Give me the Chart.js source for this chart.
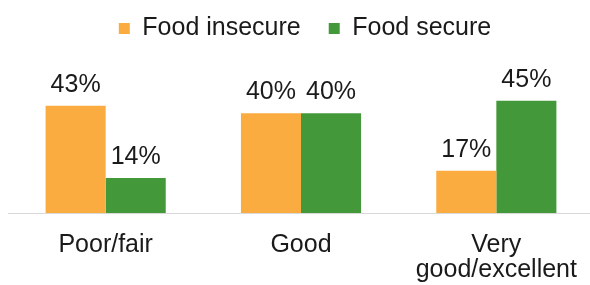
<!DOCTYPE html>
<html>
<head>
<meta charset="utf-8">
<script src="https://cdn.jsdelivr.net/npm/chart.js@4"></script>
<style>
  html, body { margin: 0; padding: 0; background: #fff; overflow: hidden; }
  #wrap { position: absolute; left: 0; top: -12px; width: 602px; height: 320px; }
</style>
</head>
<body>
<div id="wrap"><canvas id="chart"></canvas></div>
<script>
const categories = ['Poor/fair', 'Good', ['Very', 'good/excellent']];
const seriesNames = ['Food insecure', 'Food secure'];
const foodInsecure = [43, 40, 17];
const foodSecure = [14, 40, 45];

const orange = '#FAAC40';
const green = '#43983A';
const fontFamily = '"Liberation Sans", Arial, sans-serif';

Chart.defaults.font.family = fontFamily;
Chart.defaults.color = '#1a1a1a';

// value labels above each bar
const barLabels = {
  id: 'barLabels',
  afterDatasetsDraw(chart) {
    const ctx = chart.ctx;
    ctx.save();
    ctx.font = '25px ' + fontFamily;
    ctx.fillStyle = '#1a1a1a';
    ctx.textAlign = 'center';
    ctx.textBaseline = 'alphabetic';
    chart.data.datasets.forEach((ds, i) => {
      chart.getDatasetMeta(i).data.forEach((bar, j) => {
        ctx.fillText(ds.data[j] + '%', bar.x, bar.y - 14);
      });
    });
    ctx.restore();
  }
};

new Chart(document.getElementById('chart'), {
  type: 'bar',
  data: {
    labels: categories,
    datasets: [
      { label: seriesNames[0], data: foodInsecure, backgroundColor: orange, borderWidth: 0 },
      { label: seriesNames[1], data: foodSecure, backgroundColor: green, borderWidth: 0 }
    ]
  },
  options: {
    responsive: true,
    maintainAspectRatio: false,
    animation: false,
    layout: { padding: { left: 8, right: 0, top: 0, bottom: 5 } },
    categoryPercentage: 0.615,
    barPercentage: 1.0,
    plugins: {
      tooltip: { enabled: false },
      legend: {
        position: 'top',
        labels: {
          boxWidth: 11,
          boxHeight: 11,
          padding: 28,
          font: { size: 25 }
        }
      }
    },
    scales: {
      x: {
        grid: { display: false, drawTicks: false },
        border: { display: true, color: '#d9d9d9', width: 1 },
        ticks: { font: { size: 25, lineHeight: 1 }, padding: 20, maxRotation: 0 }
      },
      y: {
        position: 'right',
        min: 0,
        max: 65,
        grid: { display: false, drawTicks: false },
        border: { display: false },
        ticks: { display: false },
        afterFit(axis) { axis.width = 8; }
      }
    }
  },
  plugins: [barLabels]
});
</script>
</body>
</html>
